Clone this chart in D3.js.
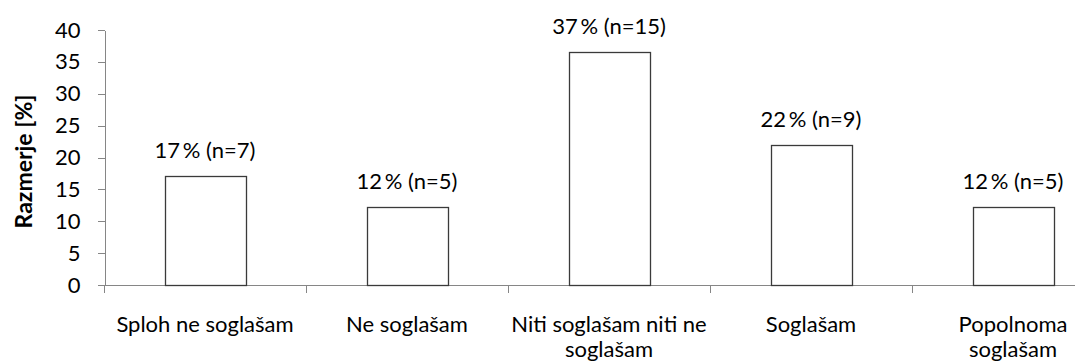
<!DOCTYPE html>
<html>
<head>
<meta charset="utf-8">
<script src="https://cdn.jsdelivr.net/npm/d3@7"></script>
<style>
  html, body { margin: 0; padding: 0; background: #fff; }
  svg { display: block; font-family: Lato, "Open Sans", sans-serif; }
</style>
</head>
<body>
<svg id="chart" width="1075" height="363"></svg>
<script>
// Survey answers (Likert scale), each category label split into display lines
const categories = [
  ["Sploh ne soglašam"],
  ["Ne soglašam"],
  ["Niti soglašam niti ne", "soglašam"],
  ["Soglašam"],
  ["Popolnoma", "soglašam"]
];
// Share of respondents per answer [%] and the respondent counts
const shares = [17.1, 12.2, 36.6, 22.0, 12.2];
const counts = [7, 5, 15, 9, 5];
const yTicks = [0, 5, 10, 15, 20, 25, 30, 35, 40];
const yTitle = "Razmerje [%]";

const keys = categories.map(c => c.join(" "));
const svg = d3.select("#chart");

const plotLeft = 104, plotRight = 1114, plotTop = 30, plotBottom = 285;
const fontSize = 22;

// Category slots (for the axis ticks) and the narrower bars inside them
const xSlot = d3.scaleBand().domain(keys).range([plotLeft, plotRight]).padding(0);
const xBar = d3.scaleBand().domain(keys).range([plotLeft, plotRight])
  .paddingInner(0.6).paddingOuter(0.3);
const y = d3.scaleLinear().domain([0, 40]).range([plotBottom, plotTop]);

const axisColor = "#868686";

// Y axis
const yAxis = svg.append("g")
  .attr("transform", `translate(${plotLeft + 0.5},0)`)
  .call(d3.axisLeft(y).tickValues(yTicks).tickSize(7).tickPadding(17).tickSizeOuter(0));
yAxis.select(".domain").attr("stroke", axisColor).attr("shape-rendering", "crispEdges");
yAxis.selectAll(".tick line").attr("stroke", axisColor).attr("shape-rendering", "crispEdges");
yAxis.selectAll(".tick text")
  .attr("fill", "#000").attr("font-size", fontSize).attr("font-family", "Lato, sans-serif");

// X axis baseline and slot separators
const xAxisG = svg.append("g");
xAxisG.append("line")
  .attr("x1", plotLeft).attr("x2", plotRight)
  .attr("y1", y(0) + 0.5).attr("y2", y(0) + 0.5)
  .attr("stroke", axisColor);
const boundaries = keys.map(k => xSlot(k)).concat([xSlot(keys[keys.length - 1]) + xSlot.bandwidth()]);
xAxisG.selectAll("line.sep").data(boundaries).join("line")
  .attr("class", "sep")
  .attr("x1", d => Math.round(d) + 0.5).attr("x2", d => Math.round(d) + 0.5)
  .attr("y1", y(0)).attr("y2", y(0) + 8)
  .attr("stroke", axisColor);

// Category labels (multi-line)
const catLabels = svg.append("g").selectAll("text").data(categories).join("text")
  .attr("text-anchor", "middle")
  .attr("font-size", fontSize)
  .attr("fill", "#000")
  .attr("transform", (d, i) => `translate(${xSlot(keys[i]) + xSlot.bandwidth() / 2},332)`);
catLabels.selectAll("tspan").data(d => d).join("tspan")
  .attr("x", 0)
  .attr("y", (d, j) => j * 25)
  .text(d => d);

// Bars
const data = keys.map((k, i) => ({ key: k, share: shares[i], n: counts[i] }));
svg.append("g").selectAll("rect").data(data).join("rect")
  .attr("x", d => Math.round(xBar(d.key)) + 0.5)
  .attr("width", Math.round(xBar.bandwidth()))
  .attr("y", d => Math.round(y(d.share)) + 0.5)
  .attr("height", d => Math.round(y(0)) - Math.round(y(d.share)))
  .attr("fill", "#fff")
  .attr("stroke", "#3a3a3a")
  .attr("stroke-width", 1.3);

// Value labels above bars
svg.append("g").selectAll("text").data(data).join("text")
  .attr("x", d => xBar(d.key) + xBar.bandwidth() / 2)
  .attr("y", d => y(d.share) - 18)
  .attr("text-anchor", "middle")
  .attr("font-size", fontSize)
  .attr("fill", "#000")
  .text(d => `${d3.format(".0f")(d.share)}\u2009% (n=${d.n})`);

// Y axis title
svg.append("text")
  .attr("transform", `translate(32,${(plotTop + plotBottom) / 2 + 4}) rotate(-90)`)
  .attr("text-anchor", "middle")
  .attr("font-size", 23)
  .attr("font-weight", "bold")
  .attr("fill", "#000")
  .text(yTitle);
</script>
</body>
</html>
